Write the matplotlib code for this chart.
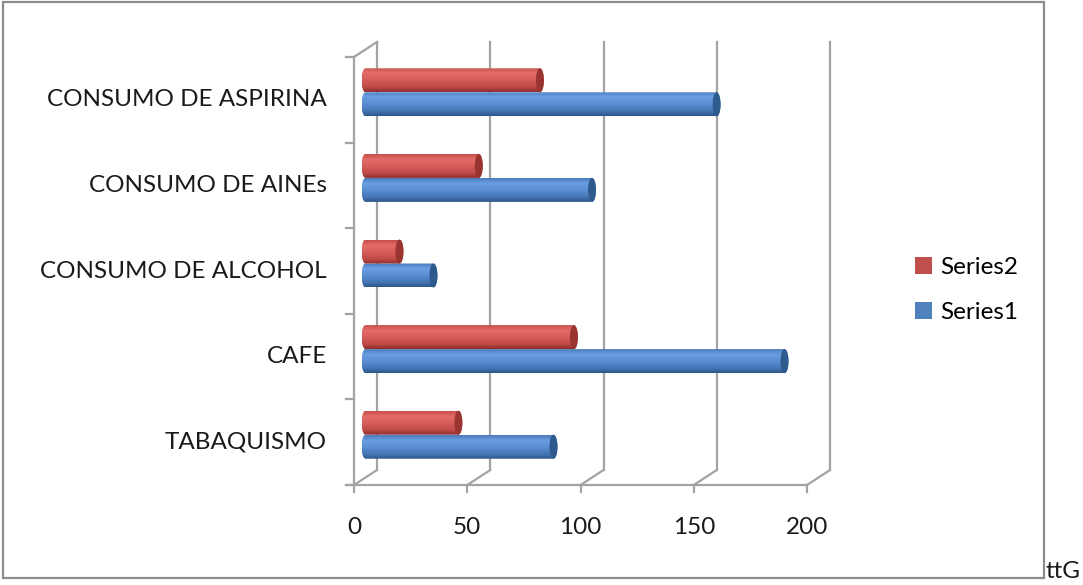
import numpy as np
import matplotlib
matplotlib.use("Agg")
import matplotlib.pyplot as plt
from matplotlib.path import Path
from matplotlib.patches import PathPatch, Ellipse, Rectangle, Patch
from matplotlib.colors import LinearSegmentedColormap

# data
categories = ["TABAQUISMO", "CAFE", "CONSUMO DE ALCOHOL", "CONSUMO DE AINEs", "CONSUMO DE ASPIRINA"]
series1 = [83, 185, 30, 100, 155]
series2 = [41, 92, 15, 50, 77]
x_ticks = [0, 50, 100, 150, 200]

W, H = 1083, 585
fig = plt.figure(figsize=(W / 100, H / 100), dpi=100)
fig.patch.set_facecolor("white")

# axes placed so that the front plane of the 3D box lands where Excel put it
ax_l, ax_r, ax_t, ax_b = 354, 807, 57, 485
ax = fig.add_axes([ax_l / W, (H - ax_b) / H, (ax_r - ax_l) / W, (ax_b - ax_t) / H])
ax.set_xlim(0, 200)
ax.set_ylim(0, 5)
ax.axis("off")

px_x = (ax_r - ax_l) / 200.0     # pixels per value unit
px_y = (ax_b - ax_t) / 5.0       # pixels per category
DX = 23 / px_x                   # depth offset of back wall
DY = 15 / px_y
grid_c = "#a3a3a3"
lw = 1.6
font = "Lato"
fs = 17.5

# back wall grid lines + floor diagonals + bottom ticks
for v in x_ticks:
    ax.plot([v + DX, v + DX], [DY, 5 + DY], color=grid_c, lw=lw, clip_on=False, zorder=1)
    ax.plot([v, v + DX], [0, DY], color=grid_c, lw=lw, clip_on=False, zorder=1)
    ax.plot([v, v], [0, -7 / px_y], color=grid_c, lw=lw, clip_on=False, zorder=1)
    ax.text(v, -42 / px_y, str(v), ha="center", va="center", fontsize=fs,
            family=font, color="#1a1a1a")

# front floor edge and left wall
ax.plot([-8 / px_x, 200], [0, 0], color=grid_c, lw=lw, clip_on=False, zorder=1)
ax.plot([0, 0], [0, 5], color=grid_c, lw=lw, clip_on=False, zorder=1)
ax.plot([0, DX], [5, 5 + DY], color=grid_c, lw=lw, clip_on=False, zorder=1)
for i in range(6):
    ax.plot([-8 / px_x, 0], [i, i], color=grid_c, lw=lw, clip_on=False, zorder=1)

for i, name in enumerate(categories):
    ax.text(-27 / px_x, i + 0.5, name, ha="right", va="center", fontsize=fs,
            family=font, color="#1a1a1a")

blue_cmap = LinearSegmentedColormap.from_list(
    "b", [(0, "#4a7cbc"), (0.22, "#6a9ee2"), (0.5, "#5a8fd4"), (0.8, "#4576b4"), (1, "#2d5789")])
red_cmap = LinearSegmentedColormap.from_list(
    "r", [(0, "#c64e4b"), (0.22, "#e46c69"), (0.5, "#d75d5a"), (0.8, "#bf4a47"), (1, "#8e2f2d")])

bh = 24 / px_y          # bar thickness in category units
rx = 4 / px_x           # horizontal radius of the end ellipses
ry = bh / 2
x_off = DX / 2          # bars sit in the middle of the depth
y_off = DY / 2


def cylinder(val, yc, cmap, cap_color):
    x0 = x_off
    x1 = val + x_off
    t1 = np.linspace(np.pi / 2, 3 * np.pi / 2, 40)
    t2 = np.linspace(-np.pi / 2, np.pi / 2, 40)
    xs = np.concatenate([x0 + rx * np.cos(t1), x1 + rx * np.cos(t2)])
    ys = np.concatenate([yc + ry * np.sin(t1), yc + ry * np.sin(t2)])
    verts = np.column_stack([xs, ys])
    path = Path(np.vstack([verts, verts[:1]]), closed=True)
    patch = PathPatch(path, facecolor="none", edgecolor="none", clip_on=False)
    ax.add_patch(patch)
    grad = np.linspace(0, 1, 64).reshape(-1, 1)
    im = ax.imshow(grad, cmap=cmap, aspect="auto", origin="upper",
                   extent=[x0 - rx, x1 + rx, yc - ry, yc + ry], zorder=3,
                   interpolation="bilinear")
    im.set_clip_path(patch)
    cap = Ellipse((x1, yc), 2 * rx, 2 * ry, facecolor=cap_color, edgecolor="none",
                  zorder=4, clip_on=False)
    ax.add_patch(cap)


for i in range(len(categories)):
    yc = i + 0.5 + y_off
    cylinder(series1[i], yc - ry, blue_cmap, "#2f5a8e")
    cylinder(series2[i], yc + ry, red_cmap, "#9a3431")

ax.set_xlim(0, 200)
ax.set_ylim(0, 5)

handles = [Patch(facecolor="#C0504D", label="Series2"),
           Patch(facecolor="#4F81BD", label="Series1")]
fig.legend(handles=handles, loc="center left", bbox_to_anchor=(903 / W, 1 - 290 / H),
           frameon=False, prop={"family": font, "size": fs}, handlelength=0.7,
           handleheight=0.7, handletextpad=0.35, labelspacing=0.95, borderpad=0)

# chart border and stray text
fig.patches.append(Rectangle((3 / W, 1 - 578 / H), (1044 - 3) / W, (578 - 2) / H,
                             transform=fig.transFigure, facecolor="none",
                             edgecolor="#8c8c8c", lw=1.6))
fig.text(1046 / W, 1 - 578 / H, "ttG", ha="left", va="baseline", fontsize=fs,
         family=font, color="#1a1a1a")

fig.savefig("out.png", dpi=100)
